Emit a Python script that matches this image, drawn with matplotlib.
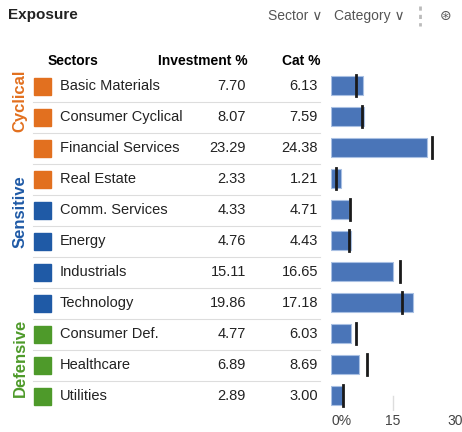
import matplotlib.pyplot as plt
from matplotlib.patches import Rectangle
from matplotlib import font_manager

sectors = ["Basic Materials", "Consumer Cyclical", "Financial Services", "Real Estate",
           "Comm. Services", "Energy", "Industrials", "Technology",
           "Consumer Def.", "Healthcare", "Utilities"]
investment = [7.70, 8.07, 23.29, 2.33, 4.33, 4.76, 15.11, 19.86, 4.77, 6.89, 2.89]
category = [6.13, 7.59, 24.38, 1.21, 4.71, 4.43, 16.65, 17.18, 6.03, 8.69, 3.00]
groups = ["Cyclical"] * 4 + ["Sensitive"] * 4 + ["Defensive"] * 3
group_colors = {"Cyclical": "#e2701f", "Sensitive": "#1f5aa6", "Defensive": "#4e9a2a"}
ticks = [0, 15, 30]
tick_labels = ["0%", "15", "30"]

names = [f.name for f in font_manager.fontManager.ttflist]
fam = "Liberation Sans Narrow" if "Liberation Sans Narrow" in names else "Liberation Sans"
plt.rcParams['font.family'] = [fam, 'DejaVu Sans']

W, H = 462, 432
fig = plt.figure(figsize=(W / 100, H / 100), dpi=100)
ax = fig.add_axes([0, 0, 1, 1])
ax.set_xlim(0, W)
ax.set_ylim(H, 0)
ax.axis("off")

ax.text(8, 15, "Exposure", fontsize=11, fontweight="bold", va="center", color="#222222")
ax.text(268, 16, "Sector \u2228", fontsize=10, va="center", color="#555555")
ax.text(334, 16, "Category \u2228", fontsize=10, va="center", color="#555555")
ax.plot([420, 420], [6, 26], color="#bbbbbb", lw=2, ls=(0, (1.5, 1.5)))
ax.text(446, 16, "\u229b", fontsize=10, va="center", ha="center", color="#555555",
        family="DejaVu Sans")

ax.text(73, 61, "Sectors", fontsize=10, fontweight="bold", ha="center", va="center")
ax.text(248, 61, "Investment %", fontsize=10, fontweight="bold", ha="right", va="center")
ax.text(320, 61, "Cat %", fontsize=10, fontweight="bold", ha="right", va="center")

y0, step = 86, 31
for i, name in enumerate(sectors):
    y = y0 + i * step
    c = group_colors[groups[i]]
    ax.add_patch(Rectangle((34, y - 8.5), 17, 17, color=c))
    ax.text(60, y, name, fontsize=10.5, va="center", color="#222222")
    ax.text(246, y, f"{investment[i]:.2f}", fontsize=10.5, ha="right", va="center", color="#222222")
    ax.text(318, y, f"{category[i]:.2f}", fontsize=10.5, ha="right", va="center", color="#222222")
    if i < len(sectors) - 1:
        ax.plot([33, 320], [y + step / 2, y + step / 2], color="#dddddd", lw=0.8)

ax.text(20, 101, "Cyclical", rotation=90, fontsize=12, fontweight="bold",
        ha="center", va="center", color=group_colors["Cyclical"])
ax.text(20, 212, "Sensitive", rotation=90, fontsize=12, fontweight="bold",
        ha="center", va="center", color=group_colors["Sensitive"])
ax.text(20, 358, "Defensive", rotation=90, fontsize=12, fontweight="bold",
        ha="center", va="center", color=group_colors["Defensive"])

# bar panel
top, bottom, left, right = 70, 411, 331, 455
bx = fig.add_axes([left / W, 1 - bottom / H, (right - left) / W, (bottom - top) / H])
rows = list(range(len(sectors)))
bx.barh(rows, investment, height=0.62, color="#4a75b8", edgecolor="#a9c0e3", lw=0.8)
for r, v in zip(rows, category):
    bx.plot([v, v], [r - 0.33, r + 0.33], color="#1a1a1a", lw=2)
bx.axvline(15, ymin=0, ymax=0.045, color="#dddddd", lw=1, zorder=0)
bx.set_xlim(0, 30)
bx.set_ylim(10.5, -0.5)
bx.set_yticks([])
bx.set_xticks(ticks)
bx.set_xticklabels(tick_labels, fontsize=10, color="#444444")
bx.get_xticklabels()[0].set_ha("left")
bx.tick_params(axis="x", length=0, pad=2)
for s in bx.spines.values():
    s.set_visible(False)
bx.patch.set_alpha(0)

fig.savefig("out.png", dpi=100)
